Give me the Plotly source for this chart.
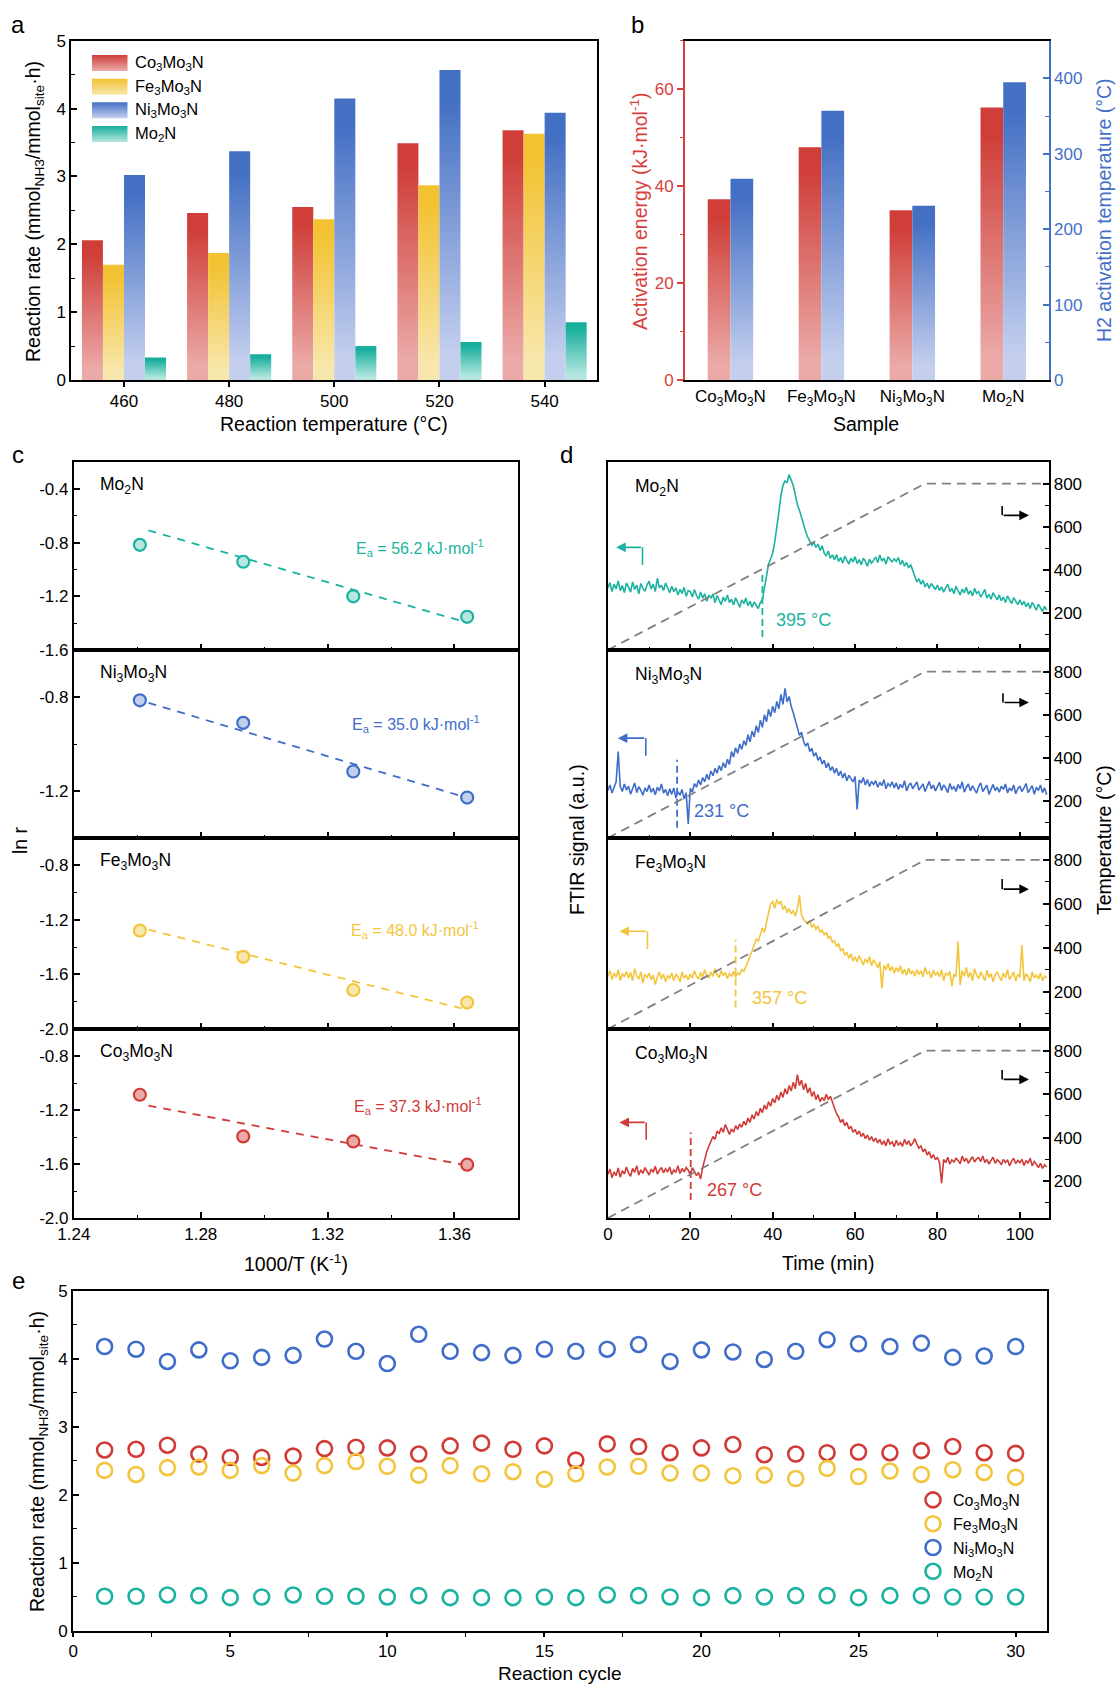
import numpy as np
import plotly.graph_objects as go

W, H = 1116, 1684
FONT = 'Arial, "Liberation Sans", Helvetica, sans-serif'

# ---------------- data ----------------
SAMPLES = ['Co<sub>3</sub>Mo<sub>3</sub>N', 'Fe<sub>3</sub>Mo<sub>3</sub>N',
           'Ni<sub>3</sub>Mo<sub>3</sub>N', 'Mo<sub>2</sub>N']
DARK = ['#CF3E39', '#F2C232', '#4470C4', '#17AE9C']
LIGHT = ['#EBAAA8', '#F8E7AC', '#C4CFEE', '#B5E7E0']
LINEC = ['#D03B37', '#F2C53D', '#3F6DC9', '#1BB3A0']

# panel a : reaction rate vs temperature
TEMPS = ['460', '480', '500', '520', '540']
RATE_CO = [2.06, 2.46, 2.55, 3.49, 3.68]
RATE_FE = [1.70, 1.87, 2.37, 2.87, 3.63]
RATE_NI = [3.02, 3.37, 4.15, 4.57, 3.94]
RATE_MO = [0.33, 0.38, 0.50, 0.56, 0.85]

# panel b : activation energy & H2 activation temperature
EA = [37.3, 48.0, 35.0, 56.2]
H2_T = [267, 357, 231, 395]

# panel c : Arrhenius plots (rows top->bottom: Mo2N, Ni3Mo3N, Fe3Mo3N, Co3Mo3N)
INV_T = [1.2608, 1.2934, 1.3281, 1.3640]
LNR_MO = [-0.817, -0.943, -1.200, -1.353]
LNR_NI = [-0.814, -0.910, -1.117, -1.228]
LNR_FE = [-1.279, -1.471, -1.714, -1.806]
LNR_CO = [-1.087, -1.396, -1.433, -1.605]
FIT_X = [1.2635, 1.3638]
FIT_MO = [-0.709, -1.395]
FIT_NI = [-0.825, -1.228]
FIT_FE = [-1.272, -1.858]
FIT_CO = [-1.168, -1.610]
EA_TXT = ['56.2', '35.0', '48.0', '37.3']
C_YTICKS = [[-1.6, -1.2, -0.8, -0.4], [-1.2, -0.8], [-2.0, -1.6, -1.2, -0.8], [-2.0, -1.6, -1.2, -0.8]]

# panel d : FTIR traces (0.5 min sampling)
TIME = np.arange(0, 107, 0.5)
TEMP_T = [0, 77, 107]
TEMP_C = [30, 800, 800]
SIG_MO = [
    318, 342, 300, 335, 312, 350, 305, 328, 296, 340,
    322, 298, 345, 310, 330, 290, 338, 315, 302, 332,
    348, 312, 335, 300, 362, 318, 330, 305, 340, 315,
    295, 325, 300, 318, 285, 310, 292, 320, 278, 305,
    300, 275, 310, 282, 265, 298, 270, 290, 255, 285,
    270, 290, 248, 282, 262, 240, 275, 255, 285, 250,
    265, 238, 272, 250, 228, 262, 245, 270, 235, 255,
    228, 252, 238, 222, 250, 262, 318, 385, 428, 452,
    478, 530, 590, 668, 745, 792, 812, 805, 842, 820,
    790, 748, 702, 676, 640, 612, 578, 552, 530, 515,
    528, 505, 520, 490, 512, 478, 465, 488, 455, 470,
    448, 472, 440, 458, 432, 465, 445, 428, 455, 438,
    462, 430, 448, 425, 455, 440, 418, 450, 432, 445,
    460, 435, 470, 442, 455, 428, 462, 448, 438, 452,
    440, 458, 425, 445, 418, 435, 410, 425, 395, 370,
    345, 360, 335, 352, 322, 340, 315, 338, 325, 310,
    330, 305, 322, 298, 318, 335, 300, 315, 290, 325,
    305, 285, 312, 295, 320, 288, 305, 280, 315, 292,
    300, 275, 292, 310, 270, 288, 265, 295, 278, 262,
    285, 258, 275, 250, 280, 262, 245, 272, 255, 240,
    262, 238, 255, 230, 248, 222, 250, 235, 215, 242,
    225, 208, 232, 215]
SIG_NI = [
    250, 275, 238, 262, 290, 430, 268, 245, 280, 252,
    270, 232, 258, 285, 240, 268, 250, 228, 262, 245,
    275, 242, 260, 230, 265, 248, 280, 238, 255, 225,
    258, 232, 262, 215, 245, 228, 255, 210, 240, 95,
    260, 242, 282, 265, 298, 275, 310, 290, 325, 300,
    340, 318, 352, 330, 365, 342, 378, 355, 395, 370,
    430, 405, 448, 422, 465, 440, 480, 458, 508, 475,
    525, 498, 550, 518, 575, 542, 600, 568, 625, 592,
    640, 610, 662, 628, 695, 648, 722, 660, 685, 638,
    610, 575, 540, 505, 520, 478, 455, 470, 430, 445,
    408, 425, 390, 405, 372, 390, 355, 378, 342, 360,
    330, 352, 318, 340, 308, 330, 295, 320, 305, 290,
    315, 162, 298, 285, 310, 275, 300, 268, 292, 278,
    295, 265, 288, 272, 300, 258, 282, 270, 290, 262,
    285, 255, 278, 262, 295, 248, 272, 285, 258, 275,
    290, 252, 268, 280, 245, 272, 292, 258, 275, 248,
    270, 288, 250, 275, 262, 240, 282, 255, 268, 245,
    278, 258, 290, 242, 265, 280, 248, 272, 255, 238,
    268, 285, 245, 262, 275, 232, 260, 278, 250, 265,
    242, 270, 255, 280, 238, 262, 248, 275, 235, 258,
    270, 245, 262, 282, 240, 258, 272, 232, 265, 250,
    275, 240, 262, 230]
SIG_FE = [
    270, 295, 255, 285, 265, 300, 250, 282, 268, 292,
    262, 288, 250, 305, 272, 258, 290, 240, 278, 265,
    285, 255, 275, 232, 268, 290, 258, 280, 245, 272,
    262, 285, 250, 278, 268, 245, 290, 262, 275, 255,
    280, 262, 295, 270, 258, 288, 265, 300, 275, 262,
    290, 270, 305, 278, 265, 295, 272, 288, 260, 282,
    270, 292, 265, 285, 278, 300, 292, 318, 340, 362,
    385, 410, 440, 430, 465, 490, 470, 520, 560, 600,
    610, 580, 620, 598, 612, 575, 590, 560, 578, 555,
    570, 545, 580, 640, 548, 530, 520, 508, 525, 495,
    505, 485, 498, 470, 482, 458, 470, 445, 452, 425,
    432, 405, 420, 385, 398, 365, 380, 352, 372, 340,
    358, 335, 365, 342, 322, 350, 330, 360, 318, 345,
    330, 308, 338, 215, 320, 300, 328, 295, 315, 285,
    310, 290, 318, 280, 302, 275, 308, 282, 295, 270,
    300, 278, 295, 268, 310, 282, 290, 262, 298, 275,
    288, 268, 300, 250, 285, 275, 292, 225, 280, 268,
    430, 230, 295, 270, 310, 265, 288, 250, 305, 275,
    260, 290, 272, 250, 298, 265, 282, 245, 275, 290,
    268, 250, 285, 262, 300, 255, 272, 290, 248, 280,
    265, 412, 250, 282, 268, 245, 290, 262, 278, 258,
    285, 250, 272, 262]
SIG_CO = [
    230, 255, 215, 242, 225, 260, 218, 248, 232, 265,
    238, 222, 258, 240, 270, 228, 252, 235, 262, 245,
    228, 255, 240, 268, 232, 250, 262, 238, 256, 242,
    265, 230, 252, 240, 270, 235, 258, 242, 262, 250,
    228, 262, 240, 225, 240, 210, 262, 300, 335, 360,
    385, 405, 392, 430, 418, 445, 425, 460, 438, 415,
    440, 425, 455, 438, 462, 448, 475, 458, 490, 470,
    505, 485, 520, 500, 535, 515, 550, 530, 565, 545,
    580, 560, 595, 572, 610, 585, 625, 600, 640, 615,
    655, 625, 690, 640, 665, 620, 650, 605, 630, 590,
    612, 575, 598, 565, 585, 570, 600, 575, 590, 560,
    540, 510, 495, 470, 485, 455, 470, 440, 452, 425,
    438, 415, 430, 405, 420, 395, 412, 388, 405, 382,
    398, 375, 392, 368, 385, 362, 395, 370, 380, 358,
    388, 365, 378, 360, 392, 368, 385, 362, 375, 395,
    370, 352, 362, 335, 348, 320, 335, 305, 322, 298,
    310, 285, 190, 300, 285, 310, 278, 298, 288, 305,
    295, 280, 315, 290, 305, 282, 298, 312, 288, 302,
    308, 290, 315, 285, 300, 278, 295, 310, 282, 298,
    290, 275, 300, 285, 298, 270, 292, 305, 280, 295,
    285, 300, 272, 295, 282, 305, 270, 290, 278, 262,
    282, 258, 275, 265]
ONSET_T = [37.5, 16.8, 31.0, 20.1]
ONSET_Y = [[90, 392], [77, 392], [128, 437], [113, 423]]
ONSET_TXT = ['395 °C', '231 °C', '357 °C', '267 °C']
ONSET_TXT_XY = [(40.3, 167), (20.3, 154), (34.6, 169), (23.5, 159)]
L_ARROW = [(2.0, 8.4, 505, 423), (2.4, 9.2, 492, 411), (2.8, 9.6, 475, 394), (2.8, 9.3, 470, 390)]
R_ARROW = [(95.7, 102.2, 696, 653), (95.9, 102.2, 700, 657), (95.7, 102.2, 713, 667), (95.7, 102.2, 711, 668)]

# panel e : stability over 30 cycles
CYCLES = list(range(1, 31))
CYC_CO = [2.66, 2.67, 2.73, 2.60, 2.55, 2.55, 2.57, 2.68, 2.70, 2.69,
          2.60, 2.72, 2.76, 2.67, 2.72, 2.51, 2.75, 2.71, 2.62, 2.69,
          2.74, 2.59, 2.60, 2.62, 2.63, 2.62, 2.65, 2.71, 2.62, 2.61]
CYC_FE = [2.36, 2.30, 2.40, 2.41, 2.36, 2.43, 2.32, 2.43, 2.49, 2.42,
          2.29, 2.43, 2.31, 2.34, 2.23, 2.31, 2.41, 2.42, 2.32, 2.32,
          2.28, 2.29, 2.24, 2.39, 2.27, 2.35, 2.30, 2.37, 2.33, 2.26]
CYC_NI = [4.18, 4.14, 3.96, 4.13, 3.97, 4.02, 4.05, 4.29, 4.11, 3.93,
          4.36, 4.11, 4.09, 4.05, 4.14, 4.11, 4.14, 4.21, 3.96, 4.13,
          4.10, 3.99, 4.11, 4.28, 4.22, 4.18, 4.23, 4.02, 4.04, 4.18]
CYC_MO = [0.51, 0.51, 0.53, 0.52, 0.49, 0.50, 0.53, 0.51, 0.51, 0.50,
          0.52, 0.49, 0.49, 0.49, 0.50, 0.49, 0.53, 0.52, 0.50, 0.49,
          0.52, 0.50, 0.52, 0.52, 0.49, 0.52, 0.52, 0.50, 0.50, 0.50]

# ---------------- layout geometry (pixels) ----------------
def fx(p):
    return p / W

def fy(p):
    return 1 - p / H

A_X = (71.4, 597.2)
B_X = (685.0, 1048.7)
AB_Y = (40.7, 380.0)
C_X = (73.9, 517.9)
D_X = (607.9, 1048.7)
ROWS = [(462, 650), (650, 838), (838, 1029), (1029, 1218)]
E_X = (73.2, 1047.0)
E_Y = (1290.7, 1631.0)
# legend of panel a (pixel layout): swatch left/right, row centres, swatch height, text x
LEG_A_X = (92, 127.5)
LEG_A_Y = [63, 86.7, 110.3, 134]
LEG_A_H = 16
LEG_A_TX = 133

def xdom(p):
    return [fx(p[0]), fx(p[1])]

def ydom(p):
    return [fy(p[1]), fy(p[0])]

fig = go.Figure()

def bar_poly(xc, w, v, base=0):
    return [xc - w / 2, xc - w / 2, xc + w / 2, xc + w / 2, xc - w / 2], [base, v, v, base, base]

def grad(light, dark, v, base=0):
    return dict(type='vertical', start=base, stop=v,
                colorscale=[[0, light], [0.08, light], [0.9, dark], [1, dark]])

# ---- panel a bars ----
rates = [RATE_CO, RATE_FE, RATE_NI, RATE_MO]
BW_A = 0.2
for s in range(4):
    for i, v in enumerate(rates[s]):
        xs, ys = bar_poly(i + (s - 1.5) * BW_A, BW_A, v)
        fig.add_trace(go.Scatter(x=xs, y=ys, mode='none', fill='toself', fillcolor=DARK[s],
                                 fillgradient=grad(LIGHT[s], DARK[s], v), showlegend=False,
                                 xaxis='x', yaxis='y', hoverinfo='skip'))

# ---- panel a legend swatches (overlay axis in pixel units) ----
for s in range(4):
    yc = LEG_A_Y[s]
    ytop, ybot = yc - LEG_A_H / 2, yc + LEG_A_H / 2
    xs = [LEG_A_X[0], LEG_A_X[0], LEG_A_X[1], LEG_A_X[1], LEG_A_X[0]]
    ys = [ybot, ytop, ytop, ybot, ybot]
    fig.add_trace(go.Scatter(x=xs, y=ys, mode='none', fill='toself', fillcolor=DARK[s],
                             fillgradient=dict(type='vertical', start=ybot, stop=ytop,
                                               colorscale=[[0, LIGHT[s]], [1, DARK[s]]]),
                             showlegend=False, xaxis='x12', yaxis='y17', hoverinfo='skip'))

# ---- panel b bars ----
BW_B = 0.25
for i in range(4):
    xs, ys = bar_poly(i - BW_B / 2, BW_B, EA[i])
    fig.add_trace(go.Scatter(x=xs, y=ys, mode='none', fill='toself', fillcolor=DARK[0],
                             fillgradient=grad(LIGHT[0], DARK[0], EA[i]), showlegend=False,
                             xaxis='x2', yaxis='y2', hoverinfo='skip'))
    xs, ys = bar_poly(i + BW_B / 2, BW_B, H2_T[i])
    fig.add_trace(go.Scatter(x=xs, y=ys, mode='none', fill='toself', fillcolor=DARK[2],
                             fillgradient=grad(LIGHT[2], DARK[2], H2_T[i]), showlegend=False,
                             xaxis='x2', yaxis='y3', hoverinfo='skip'))

# ---- panel c ----
c_rows = [(3, LNR_MO, FIT_MO), (2, LNR_NI, FIT_NI), (1, LNR_FE, FIT_FE), (0, LNR_CO, FIT_CO)]
for r, (s, lnr, fit) in enumerate(c_rows):
    xa, ya = 'x%d' % (3 + r), 'y%d' % (4 + r)
    fig.add_trace(go.Scatter(x=FIT_X, y=fit, mode='lines', showlegend=False,
                             line=dict(color=LINEC[s], width=1.8, dash='8px,7px'),
                             xaxis=xa, yaxis=ya, hoverinfo='skip'))
    fig.add_trace(go.Scatter(x=INV_T, y=lnr, mode='markers', showlegend=False,
                             marker=dict(size=12, color=LIGHT[s], line=dict(color=LINEC[s], width=2.2)),
                             xaxis=xa, yaxis=ya, hoverinfo='skip'))

# ---- panel d ----
d_rows = [(3, SIG_MO), (2, SIG_NI), (1, SIG_FE), (0, SIG_CO)]
for r, (s, sig) in enumerate(d_rows):
    xa, yl, yr = 'x%d' % (7 + r), 'y%d' % (8 + r), 'y%d' % (12 + r)
    fig.add_trace(go.Scatter(x=TIME[:len(sig)], y=sig, mode='lines', showlegend=False,
                             line=dict(color=LINEC[s], width=1.6),
                             xaxis=xa, yaxis=yl, hoverinfo='skip'))
    fig.add_trace(go.Scatter(x=[ONSET_T[r], ONSET_T[r]], y=ONSET_Y[r], mode='lines', showlegend=False,
                             line=dict(color=LINEC[s], width=1.8, dash='7px,4px'),
                             xaxis=xa, yaxis=yl, hoverinfo='skip'))
    fig.add_trace(go.Scatter(x=TEMP_T, y=TEMP_C, mode='lines', showlegend=False,
                             line=dict(color='#808080', width=1.8, dash='9px,6px'),
                             xaxis=xa, yaxis=yr, hoverinfo='skip'))

# ---- panel e ----
cyc = [CYC_CO, CYC_FE, CYC_NI, CYC_MO]
for s in range(4):
    fig.add_trace(go.Scatter(x=CYCLES, y=cyc[s], mode='markers', name=SAMPLES[s],
                             marker=dict(symbol='circle-open', size=15, color=LINEC[s],
                                         line=dict(width=2.6, color=LINEC[s])),
                             legend='legend2', xaxis='x11', yaxis='y16', hoverinfo='skip'))

# ---------------- axes ----------------
TICKF = dict(size=17, color='black', family=FONT)

def ax(**kw):
    d = dict(showline=True, linecolor='black', linewidth=2, showgrid=False, zeroline=False,
             ticks='inside', ticklen=6, tickwidth=1.5, tickcolor='black', tickfont=TICKF)
    d.update(kw)
    return d

def minor(dt, ticks='inside', tick0=0):
    return dict(ticks=ticks, ticklen=3.5, tickwidth=1.3, tickcolor='black', dtick=dt, tick0=tick0,
                showgrid=False)

lay = {}
# a
lay['xaxis'] = ax(domain=xdom(A_X), range=[-0.5, 4.5], tickvals=list(range(5)), ticktext=TEMPS,
                  ticks='outside', ticklen=5, mirror=True, anchor='y')
lay['yaxis'] = ax(domain=ydom(AB_Y), range=[0, 5], dtick=1, tick0=0, mirror=True, anchor='x',
                  minor=minor(0.5))
# b
lay['xaxis2'] = ax(domain=xdom(B_X), range=[-0.5, 3.5], tickvals=list(range(4)), ticktext=SAMPLES,
                   ticks='', mirror=True, anchor='y2')
RED, BLUE = '#D8403B', '#4470C8'
lay['yaxis2'] = ax(domain=ydom(AB_Y), range=[0, 70], dtick=20, tick0=0, anchor='x2', ticks='outside',
                   linecolor=RED, tickcolor=RED, tickfont=dict(size=17, color=RED, family=FONT),
                   minor=dict(ticks='outside', ticklen=3.5, tickwidth=1.3, tickcolor=RED, dtick=10))
lay['yaxis3'] = ax(domain=ydom(AB_Y), range=[0, 450], dtick=100, tick0=0, anchor='x2', overlaying='y2',
                   side='right', linecolor=BLUE, tickcolor=BLUE,
                   tickfont=dict(size=17, color=BLUE, family=FONT),
                   minor=dict(ticks='inside', ticklen=3.5, tickwidth=1.3, tickcolor=BLUE, dtick=50))
# c
C_YR = [[-1.6, -0.2], [-1.4, -0.6], [-2.0, -0.6], [-2.0, -0.6]]
for r in range(4):
    lay['xaxis%d' % (3 + r)] = ax(domain=xdom(C_X), range=[1.24, 1.38], tick0=1.24, dtick=0.04,
                                  tickformat='.2f', mirror=True, anchor='y%d' % (4 + r),
                                  showticklabels=(r == 3), minor=minor(0.02, tick0=1.24))
    lay['yaxis%d' % (4 + r)] = ax(domain=ydom(ROWS[r]), range=C_YR[r], tickmode='array',
                                  tickvals=C_YTICKS[r], ticktext=['%.1f' % v for v in C_YTICKS[r]],
                                  mirror=True, anchor='x%d' % (3 + r), minor=minor(0.2))
# d
for r in range(4):
    lay['xaxis%d' % (7 + r)] = ax(domain=xdom(D_X), range=[0, 107], tick0=0, dtick=20,
                                  mirror=True, anchor='y%d' % (8 + r),
                                  showticklabels=(r == 3), minor=minor(10))
    lay['yaxis%d' % (8 + r)] = ax(domain=ydom(ROWS[r]), range=[30, 900], ticks='', showticklabels=False,
                                  mirror=True, anchor='x%d' % (7 + r))
    lay['yaxis%d' % (12 + r)] = ax(domain=ydom(ROWS[r]), range=[30, 900], tick0=0, dtick=200,
                                   overlaying='y%d' % (8 + r), side='right', anchor='x%d' % (7 + r),
                                   showline=False, minor=minor(100), ticklabelstandoff=4)
# e
lay['xaxis11'] = ax(domain=xdom(E_X), range=[0, 31], tick0=0, dtick=5, ticks='outside', ticklen=4,
                    mirror=True, anchor='y16', minor=dict(ticks='outside', ticklen=4, tickwidth=1.3,
                                                          tickcolor='black', dtick=2.5, tick0=0))
lay['yaxis16'] = ax(domain=ydom(E_Y), range=[0, 5], tick0=0, dtick=1, mirror=True, anchor='x11',
                    minor=minor(0.5))
# pixel overlay axis for the panel-a legend swatches
lay['xaxis12'] = dict(domain=[0, 1], range=[0, W], visible=False, anchor='y17', fixedrange=True)
lay['yaxis17'] = dict(domain=[0, 1], range=[H, 0], visible=False, anchor='x12', fixedrange=True)

# ---------------- annotations ----------------
ann = []

def ptext(x, y, text, size=19.5, color='black', angle=0, xanchor='center'):
    ann.append(dict(x=fx(x), y=fy(y), xref='paper', yref='paper', text=text, showarrow=False,
                    textangle=angle, xanchor=xanchor, yanchor='middle',
                    font=dict(size=size, color=color, family=FONT)))

for lab, x, y in [('a', 18, 24), ('b', 637, 24), ('c', 18, 455), ('d', 566, 455), ('e', 18, 1280)]:
    ptext(x, y, lab, size=24)

for s in range(4):
    ptext(LEG_A_TX, LEG_A_Y[s], SAMPLES[s], size=16.5, xanchor='left')

RATE_TITLE = 'Reaction rate (mmol<sub>NH3</sub>/mmol<sub>site</sub>·h)'
ptext(35, 212, RATE_TITLE, angle=-90)
ptext(334, 424, 'Reaction temperature (°C)')
ptext(639, 211, 'Activation energy (kJ·mol<sup>-1</sup>)', color=RED, angle=-90)
ptext(1104, 210, 'H2 activation temperature (°C)', color=BLUE, angle=-90)
ptext(866, 424, 'Sample')
ptext(20, 840, 'ln r', angle=-90)
ptext(296, 1263, '1000/T (K<sup>-1</sup>)')
ptext(577, 840, 'FTIR signal (a.u.)', angle=-90)
ptext(1104, 840, 'Temperature (°C)', angle=-90)
ptext(828, 1263, 'Time (min)')
ptext(38, 1462, RATE_TITLE, angle=-90)
ptext(560, 1673, 'Reaction cycle', size=19)

EA_POS = [(1.3283, -0.842), (1.3270, -0.917), (1.3267, -1.272), (1.3278, -1.168)]
for r, (s, _, _) in enumerate(c_rows):
    xa, ya = 'x%d' % (3 + r), 'y%d' % (4 + r)
    ann.append(dict(x=0.054, y=0.875, xref=xa + ' domain', yref=ya + ' domain', text=SAMPLES[s],
                    showarrow=False, xanchor='left', yanchor='middle',
                    font=dict(size=17.5, color='black', family=FONT)))
    ann.append(dict(x=EA_POS[r][0], y=EA_POS[r][1], xref=xa, yref=ya,
                    text='E<sub>a</sub> = %s kJ·mol<sup>-1</sup>' % EA_TXT[r],
                    showarrow=False, xanchor='left', yanchor='middle',
                    font=dict(size=16, color=LINEC[s], family=FONT)))

shapes = []
for r, (s, _) in enumerate(d_rows):
    xa, yl = 'x%d' % (7 + r), 'y%d' % (8 + r)
    ann.append(dict(x=0.058, y=0.865, xref=xa + ' domain', yref=yl + ' domain', text=SAMPLES[s],
                    showarrow=False, xanchor='left', yanchor='middle',
                    font=dict(size=17.5, color='black', family=FONT)))
    tx, ty = ONSET_TXT_XY[r]
    ann.append(dict(x=tx, y=ty, xref=xa, yref=yl, text=ONSET_TXT[r], showarrow=False,
                    xanchor='left', yanchor='middle', font=dict(size=18, color=LINEC[s], family=FONT)))
    tip, tail, yh, ylow = L_ARROW[r]
    ann.append(dict(x=tip, y=yh, ax=tail, ay=yh, xref=xa, yref=yl, axref=xa, ayref=yl, text='',
                    showarrow=True, arrowhead=2, arrowsize=1.2, arrowwidth=1.6, arrowcolor=LINEC[s]))
    shapes.append(dict(type='line', xref=xa, yref=yl, x0=tail, x1=tail, y0=yh, y1=ylow,
                       line=dict(color=LINEC[s], width=1.6)))
    xv, tipx, ytop, yb = R_ARROW[r]
    shapes.append(dict(type='line', xref=xa, yref=yl, x0=xv, x1=xv, y0=ytop, y1=yb,
                       line=dict(color='black', width=1.6)))
    ann.append(dict(x=tipx, y=yb, ax=xv, ay=yb, xref=xa, yref=yl, axref=xa, ayref=yl, text='',
                    showarrow=True, arrowhead=2, arrowsize=1.2, arrowwidth=1.6, arrowcolor='black'))

fig.update_layout(
    width=W, height=H, autosize=False, margin=dict(l=0, r=0, t=0, b=0),
    template='none', paper_bgcolor='white', plot_bgcolor='rgba(0,0,0,0)',
    font=dict(family=FONT, color='black'),
    annotations=ann, shapes=shapes,
    legend2=dict(x=fx(913), y=fy(1483), xanchor='left', yanchor='top', bgcolor='rgba(0,0,0,0)',
                 font=dict(size=16, family=FONT, color='black')),
    **lay)

fig.write_html('out.html')
